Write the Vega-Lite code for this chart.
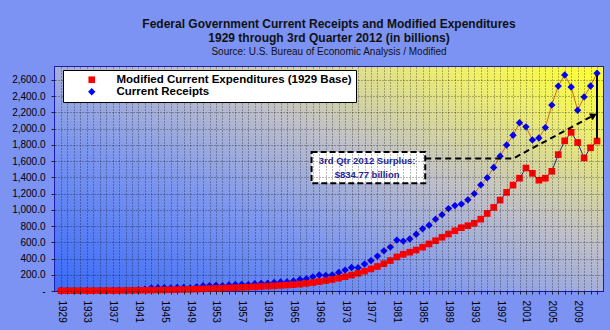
{
  "$schema": "https://vega.github.io/schema/vega-lite/v6.json",
  "width": 548,
  "height": 224,
  "autosize": {"type": "none"},
  "padding": {"left": 55, "top": 67, "right": 7, "bottom": 39},
  "background": "#7C93F3",
  "title": {
    "text": ["Federal Government Current Receipts and Modified Expenditures", "1929 through 3rd Quarter 2012 (in billions)"],
    "subtitle": "Source: U.S. Bureau of Economic Analysis / Modified",
    "anchor": "middle",
    "frame": "group",
    "font": "Liberation Sans",
    "fontSize": 12,
    "fontWeight": "bold",
    "color": "#111111",
    "lineHeight": 14,
    "subtitleFont": "Liberation Sans",
    "subtitleFontSize": 10,
    "subtitleColor": "#111111",
    "subtitlePadding": 2,
    "offset": 9
  },
  "config": {
    "view": {"stroke": "#1B1BB5", "strokeWidth": 2},
    "axis": {
      "labelFont": "Liberation Sans",
      "labelFontSize": 10,
      "labelColor": "#000000",
      "tickColor": "#222222",
      "domain": false,
      "grid": true,
      "gridColor": "#000000",
      "gridDash": [1, 2],
      "gridOpacity": 0.55,
      "zindex": 1,
      "title": null
    }
  },
  "datasets": {
    "series": [
      {"year": 1929, "series": "Current Receipts", "value": 3.8},
      {"year": 1930, "series": "Current Receipts", "value": 3.1},
      {"year": 1931, "series": "Current Receipts", "value": 2.0},
      {"year": 1932, "series": "Current Receipts", "value": 1.7},
      {"year": 1933, "series": "Current Receipts", "value": 2.7},
      {"year": 1934, "series": "Current Receipts", "value": 3.5},
      {"year": 1935, "series": "Current Receipts", "value": 4.0},
      {"year": 1936, "series": "Current Receipts", "value": 5.0},
      {"year": 1937, "series": "Current Receipts", "value": 7.0},
      {"year": 1938, "series": "Current Receipts", "value": 6.6},
      {"year": 1939, "series": "Current Receipts", "value": 6.7},
      {"year": 1940, "series": "Current Receipts", "value": 8.6},
      {"year": 1941, "series": "Current Receipts", "value": 15.4},
      {"year": 1942, "series": "Current Receipts", "value": 22.9},
      {"year": 1943, "series": "Current Receipts", "value": 39.3},
      {"year": 1944, "series": "Current Receipts", "value": 41.0},
      {"year": 1945, "series": "Current Receipts", "value": 42.5},
      {"year": 1946, "series": "Current Receipts", "value": 39.2},
      {"year": 1947, "series": "Current Receipts", "value": 43.0},
      {"year": 1948, "series": "Current Receipts", "value": 43.1},
      {"year": 1949, "series": "Current Receipts", "value": 38.8},
      {"year": 1950, "series": "Current Receipts", "value": 50.0},
      {"year": 1951, "series": "Current Receipts", "value": 64.3},
      {"year": 1952, "series": "Current Receipts", "value": 66.9},
      {"year": 1953, "series": "Current Receipts", "value": 70.2},
      {"year": 1954, "series": "Current Receipts", "value": 64.7},
      {"year": 1955, "series": "Current Receipts", "value": 73.5},
      {"year": 1956, "series": "Current Receipts", "value": 78.7},
      {"year": 1957, "series": "Current Receipts", "value": 82.4},
      {"year": 1958, "series": "Current Receipts", "value": 79.3},
      {"year": 1959, "series": "Current Receipts", "value": 89.7},
      {"year": 1960, "series": "Current Receipts", "value": 94.5},
      {"year": 1961, "series": "Current Receipts", "value": 96.0},
      {"year": 1962, "series": "Current Receipts", "value": 104.2},
      {"year": 1963, "series": "Current Receipts", "value": 112.1},
      {"year": 1964, "series": "Current Receipts", "value": 113.2},
      {"year": 1965, "series": "Current Receipts", "value": 124.0},
      {"year": 1966, "series": "Current Receipts", "value": 141.4},
      {"year": 1967, "series": "Current Receipts", "value": 150.2},
      {"year": 1968, "series": "Current Receipts", "value": 174.8},
      {"year": 1969, "series": "Current Receipts", "value": 196.8},
      {"year": 1970, "series": "Current Receipts", "value": 192.1},
      {"year": 1971, "series": "Current Receipts", "value": 199.2},
      {"year": 1972, "series": "Current Receipts", "value": 228.4},
      {"year": 1973, "series": "Current Receipts", "value": 257.8},
      {"year": 1974, "series": "Current Receipts", "value": 289.3},
      {"year": 1975, "series": "Current Receipts", "value": 287.3},
      {"year": 1976, "series": "Current Receipts", "value": 331.9},
      {"year": 1977, "series": "Current Receipts", "value": 375.1},
      {"year": 1978, "series": "Current Receipts", "value": 430.2},
      {"year": 1979, "series": "Current Receipts", "value": 495.2},
      {"year": 1980, "series": "Current Receipts", "value": 540.9},
      {"year": 1981, "series": "Current Receipts", "value": 627.7},
      {"year": 1982, "series": "Current Receipts", "value": 615.2},
      {"year": 1983, "series": "Current Receipts", "value": 641.1},
      {"year": 1984, "series": "Current Receipts", "value": 699.3},
      {"year": 1985, "series": "Current Receipts", "value": 767.6},
      {"year": 1986, "series": "Current Receipts", "value": 810.1},
      {"year": 1987, "series": "Current Receipts", "value": 885.1},
      {"year": 1988, "series": "Current Receipts", "value": 940.8},
      {"year": 1989, "series": "Current Receipts", "value": 1015.9},
      {"year": 1990, "series": "Current Receipts", "value": 1052.1},
      {"year": 1991, "series": "Current Receipts", "value": 1070.8},
      {"year": 1992, "series": "Current Receipts", "value": 1123.3},
      {"year": 1993, "series": "Current Receipts", "value": 1199.3},
      {"year": 1994, "series": "Current Receipts", "value": 1307.0},
      {"year": 1995, "series": "Current Receipts", "value": 1395.4},
      {"year": 1996, "series": "Current Receipts", "value": 1521.5},
      {"year": 1997, "series": "Current Receipts", "value": 1661.8},
      {"year": 1998, "series": "Current Receipts", "value": 1799.0},
      {"year": 1999, "series": "Current Receipts", "value": 1919.3},
      {"year": 2000, "series": "Current Receipts", "value": 2073.6},
      {"year": 2001, "series": "Current Receipts", "value": 2023.0},
      {"year": 2002, "series": "Current Receipts", "value": 1861.4},
      {"year": 2003, "series": "Current Receipts", "value": 1885.2},
      {"year": 2004, "series": "Current Receipts", "value": 2013.8},
      {"year": 2005, "series": "Current Receipts", "value": 2290.3},
      {"year": 2006, "series": "Current Receipts", "value": 2524.9},
      {"year": 2007, "series": "Current Receipts", "value": 2662.0},
      {"year": 2008, "series": "Current Receipts", "value": 2514.0},
      {"year": 2009, "series": "Current Receipts", "value": 2227.0},
      {"year": 2010, "series": "Current Receipts", "value": 2391.0},
      {"year": 2011, "series": "Current Receipts", "value": 2526.0},
      {"year": 2012, "series": "Current Receipts", "value": 2682.4},
      {"year": 1929, "series": "Modified Current Expenditures (1929 Base)", "value": 3.1},
      {"year": 1930, "series": "Modified Current Expenditures (1929 Base)", "value": 3.3},
      {"year": 1931, "series": "Modified Current Expenditures (1929 Base)", "value": 3.4},
      {"year": 1932, "series": "Modified Current Expenditures (1929 Base)", "value": 3.5},
      {"year": 1933, "series": "Modified Current Expenditures (1929 Base)", "value": 3.8},
      {"year": 1934, "series": "Modified Current Expenditures (1929 Base)", "value": 4.2},
      {"year": 1935, "series": "Modified Current Expenditures (1929 Base)", "value": 4.6},
      {"year": 1936, "series": "Modified Current Expenditures (1929 Base)", "value": 5.0},
      {"year": 1937, "series": "Modified Current Expenditures (1929 Base)", "value": 5.5},
      {"year": 1938, "series": "Modified Current Expenditures (1929 Base)", "value": 6.0},
      {"year": 1939, "series": "Modified Current Expenditures (1929 Base)", "value": 6.6},
      {"year": 1940, "series": "Modified Current Expenditures (1929 Base)", "value": 7.2},
      {"year": 1941, "series": "Modified Current Expenditures (1929 Base)", "value": 8.0},
      {"year": 1942, "series": "Modified Current Expenditures (1929 Base)", "value": 9.0},
      {"year": 1943, "series": "Modified Current Expenditures (1929 Base)", "value": 10.5},
      {"year": 1944, "series": "Modified Current Expenditures (1929 Base)", "value": 12.0},
      {"year": 1945, "series": "Modified Current Expenditures (1929 Base)", "value": 13.5},
      {"year": 1946, "series": "Modified Current Expenditures (1929 Base)", "value": 15.0},
      {"year": 1947, "series": "Modified Current Expenditures (1929 Base)", "value": 17.0},
      {"year": 1948, "series": "Modified Current Expenditures (1929 Base)", "value": 19.0},
      {"year": 1949, "series": "Modified Current Expenditures (1929 Base)", "value": 21.0},
      {"year": 1950, "series": "Modified Current Expenditures (1929 Base)", "value": 23.0},
      {"year": 1951, "series": "Modified Current Expenditures (1929 Base)", "value": 26.0},
      {"year": 1952, "series": "Modified Current Expenditures (1929 Base)", "value": 29.0},
      {"year": 1953, "series": "Modified Current Expenditures (1929 Base)", "value": 32.0},
      {"year": 1954, "series": "Modified Current Expenditures (1929 Base)", "value": 35.0},
      {"year": 1955, "series": "Modified Current Expenditures (1929 Base)", "value": 38.0},
      {"year": 1956, "series": "Modified Current Expenditures (1929 Base)", "value": 41.0},
      {"year": 1957, "series": "Modified Current Expenditures (1929 Base)", "value": 44.0},
      {"year": 1958, "series": "Modified Current Expenditures (1929 Base)", "value": 48.0},
      {"year": 1959, "series": "Modified Current Expenditures (1929 Base)", "value": 52.0},
      {"year": 1960, "series": "Modified Current Expenditures (1929 Base)", "value": 56.0},
      {"year": 1961, "series": "Modified Current Expenditures (1929 Base)", "value": 60.0},
      {"year": 1962, "series": "Modified Current Expenditures (1929 Base)", "value": 64.0},
      {"year": 1963, "series": "Modified Current Expenditures (1929 Base)", "value": 68.0},
      {"year": 1964, "series": "Modified Current Expenditures (1929 Base)", "value": 73.0},
      {"year": 1965, "series": "Modified Current Expenditures (1929 Base)", "value": 78.0},
      {"year": 1966, "series": "Modified Current Expenditures (1929 Base)", "value": 85.0},
      {"year": 1967, "series": "Modified Current Expenditures (1929 Base)", "value": 94.0},
      {"year": 1968, "series": "Modified Current Expenditures (1929 Base)", "value": 104.0},
      {"year": 1969, "series": "Modified Current Expenditures (1929 Base)", "value": 116.0},
      {"year": 1970, "series": "Modified Current Expenditures (1929 Base)", "value": 128.0},
      {"year": 1971, "series": "Modified Current Expenditures (1929 Base)", "value": 142.0},
      {"year": 1972, "series": "Modified Current Expenditures (1929 Base)", "value": 158.0},
      {"year": 1973, "series": "Modified Current Expenditures (1929 Base)", "value": 176.0},
      {"year": 1974, "series": "Modified Current Expenditures (1929 Base)", "value": 196.0},
      {"year": 1975, "series": "Modified Current Expenditures (1929 Base)", "value": 218.0},
      {"year": 1976, "series": "Modified Current Expenditures (1929 Base)", "value": 244.0},
      {"year": 1977, "series": "Modified Current Expenditures (1929 Base)", "value": 272.0},
      {"year": 1978, "series": "Modified Current Expenditures (1929 Base)", "value": 302.0},
      {"year": 1979, "series": "Modified Current Expenditures (1929 Base)", "value": 336.0},
      {"year": 1980, "series": "Modified Current Expenditures (1929 Base)", "value": 375.0},
      {"year": 1981, "series": "Modified Current Expenditures (1929 Base)", "value": 420.0},
      {"year": 1982, "series": "Modified Current Expenditures (1929 Base)", "value": 452.0},
      {"year": 1983, "series": "Modified Current Expenditures (1929 Base)", "value": 478.0},
      {"year": 1984, "series": "Modified Current Expenditures (1929 Base)", "value": 505.0},
      {"year": 1985, "series": "Modified Current Expenditures (1929 Base)", "value": 540.0},
      {"year": 1986, "series": "Modified Current Expenditures (1929 Base)", "value": 580.0},
      {"year": 1987, "series": "Modified Current Expenditures (1929 Base)", "value": 620.0},
      {"year": 1988, "series": "Modified Current Expenditures (1929 Base)", "value": 662.0},
      {"year": 1989, "series": "Modified Current Expenditures (1929 Base)", "value": 702.0},
      {"year": 1990, "series": "Modified Current Expenditures (1929 Base)", "value": 742.0},
      {"year": 1991, "series": "Modified Current Expenditures (1929 Base)", "value": 780.0},
      {"year": 1992, "series": "Modified Current Expenditures (1929 Base)", "value": 805.0},
      {"year": 1993, "series": "Modified Current Expenditures (1929 Base)", "value": 835.0},
      {"year": 1994, "series": "Modified Current Expenditures (1929 Base)", "value": 885.0},
      {"year": 1995, "series": "Modified Current Expenditures (1929 Base)", "value": 955.0},
      {"year": 1996, "series": "Modified Current Expenditures (1929 Base)", "value": 1030.0},
      {"year": 1997, "series": "Modified Current Expenditures (1929 Base)", "value": 1120.0},
      {"year": 1998, "series": "Modified Current Expenditures (1929 Base)", "value": 1215.0},
      {"year": 1999, "series": "Modified Current Expenditures (1929 Base)", "value": 1305.0},
      {"year": 2000, "series": "Modified Current Expenditures (1929 Base)", "value": 1390.0},
      {"year": 2001, "series": "Modified Current Expenditures (1929 Base)", "value": 1515.0},
      {"year": 2002, "series": "Modified Current Expenditures (1929 Base)", "value": 1450.0},
      {"year": 2003, "series": "Modified Current Expenditures (1929 Base)", "value": 1365.0},
      {"year": 2004, "series": "Modified Current Expenditures (1929 Base)", "value": 1390.0},
      {"year": 2005, "series": "Modified Current Expenditures (1929 Base)", "value": 1475.0},
      {"year": 2006, "series": "Modified Current Expenditures (1929 Base)", "value": 1680.0},
      {"year": 2007, "series": "Modified Current Expenditures (1929 Base)", "value": 1850.0},
      {"year": 2008, "series": "Modified Current Expenditures (1929 Base)", "value": 1955.0},
      {"year": 2009, "series": "Modified Current Expenditures (1929 Base)", "value": 1830.0},
      {"year": 2010, "series": "Modified Current Expenditures (1929 Base)", "value": 1640.0},
      {"year": 2011, "series": "Modified Current Expenditures (1929 Base)", "value": 1765.0},
      {"year": 2012, "series": "Modified Current Expenditures (1929 Base)", "value": 1847.6}
    ],
    "box": [{"year": 1967.8, "year2": 1985.4, "value": 1327, "value2": 1714}],
    "note": [
      {"year": 1976.4, "value": 1602, "text": "3rd Qtr 2012 Surplus:"},
      {"year": 1976.4, "value": 1435, "text": "$834.77 billion"}
    ],
    "pointer": [
      {"year": 1985.4, "value": 1632},
      {"year": 1999.0, "value": 1632},
      {"year": 2011.5, "value": 2165}
    ],
    "pointerHead": [{"year": 2011.5, "value": 2165}],
    "surplus": [{"year": 2012, "value": 2660, "value2": 1875}]
  },
  "encoding": {
    "x": {
      "field": "year",
      "type": "quantitative",
      "scale": {"domain": [1928.07, 2012.93], "nice": false, "zero": false},
      "axis": {
        "values": [1929,1930,1931,1932,1933,1934,1935,1936,1937,1938,1939,1940,1941,1942,1943,1944,1945,1946,1947,1948,1949,1950,1951,1952,1953,1954,1955,1956,1957,1958,1959,1960,1961,1962,1963,1964,1965,1966,1967,1968,1969,1970,1971,1972,1973,1974,1975,1976,1977,1978,1979,1980,1981,1982,1983,1984,1985,1986,1987,1988,1989,1990,1991,1992,1993,1994,1995,1996,1997,1998,1999,2000,2001,2002,2003,2004,2005,2006,2007,2008,2009,2010,2011,2012],
        "labelExpr": "(datum.value - 1929) % 4 === 0 ? format(datum.value, 'd') : ''",
        "labelAngle": 90,
        "labelAlign": "left",
        "labelBaseline": "middle",
        "labelPadding": 6,
        "labelOverlap": false,
        "tickSize": 3,
        "grid": true,
        "zindex": 1
      }
    },
    "y": {
      "field": "value",
      "type": "quantitative",
      "scale": {"domain": [0, 2760], "nice": false},
      "axis": {
        "values": [0,200,400,600,800,1000,1200,1400,1600,1800,2000,2200,2400,2600],
        "labelExpr": "datum.value === 0 ? '-' : format(datum.value, ',.1f')",
        "tickSize": 4,
        "labelPadding": 6,
        "grid": true,
        "zindex": 1
      }
    }
  },
  "layer": [
    {
      "data": {"values": [{"year": 1928.07, "year2": 2012.93, "value": 0, "value2": 2760}]},
      "mark": {
        "type": "rect",
        "color": {
          "gradient": "linear",
          "x1": 0, "y1": 1, "x2": 1, "y2": 0,
          "stops": [
            {"offset": 0, "color": "#3A6AF8"},
            {"offset": 0.35, "color": "#7E97EE"},
            {"offset": 0.6, "color": "#C0C0C8"},
            {"offset": 0.85, "color": "#EEEE70"},
            {"offset": 1, "color": "#FFFF30"}
          ]
        }
      },
      "encoding": {
        "x2": {"field": "year2"},
        "y2": {"field": "value2"}
      }
    },
    {
      "data": {"name": "series"},
      "transform": [{"filter": "datum.series === 'Modified Current Expenditures (1929 Base)'"}],
      "mark": {"type": "line", "color": "#23239A", "strokeWidth": 1}
    },
    {
      "data": {"name": "series"},
      "transform": [{"filter": "datum.series === 'Current Receipts'"}],
      "mark": {"type": "line", "color": "#D06A1E", "strokeWidth": 1}
    },
    {
      "data": {"name": "series"},
      "mark": {"type": "point", "filled": true, "opacity": 1},
      "encoding": {
        "color": {
          "field": "series",
          "type": "nominal",
          "scale": {"domain": ["Modified Current Expenditures (1929 Base)", "Current Receipts"], "range": ["#FF0000", "#0000FF"]},
          "legend": {
            "title": null,
            "orient": "none",
            "legendX": 8,
            "legendY": 3,
            "zindex": 2,
            "direction": "vertical",
            "fillColor": "#FFFFFF",
            "strokeColor": "#000000",
            "padding": 4,
            "symbolSize": 121,
            "symbolOffset": 19,
            "labelOffset": 19,
            "rowPadding": -4,
            "labelFont": "Liberation Sans",
            "labelFontSize": 11.5,
            "labelFontWeight": "bold",
            "labelColor": "#000000",
            "labelLimit": 400,
            "encode": {
              "symbols": {
                "shape": {
                  "condition": {"test": "datum.value === 'Current Receipts'", "value": "M-1.8,0L1.8,0M0,-0.7L0.7,0L0,0.7L-0.7,0Z"},
                  "value": "M-1.8,0L1.8,0M-0.55,-0.55L0.55,-0.55L0.55,0.55L-0.55,0.55Z"
                },
                "stroke": {
                  "condition": {"test": "datum.value === 'Current Receipts'", "value": "#CC2020"},
                  "value": "#2020CC"
                },
                "strokeWidth": {"value": 1}
              }
            }
          }
        },
        "shape": {
          "field": "series",
          "type": "nominal",
          "scale": {"domain": ["Modified Current Expenditures (1929 Base)", "Current Receipts"], "range": ["square", "diamond"]},
          "legend": null
        },
        "size": {
          "field": "series",
          "type": "nominal",
          "scale": {"domain": ["Modified Current Expenditures (1929 Base)", "Current Receipts"], "range": [44, 54]},
          "legend": null
        }
      }
    },
    {
      "data": {"name": "box"},
      "mark": {"type": "rect", "fill": "#FFFFFF", "stroke": "#000000", "strokeWidth": 2, "strokeDash": [6, 3]},
      "encoding": {
        "x2": {"field": "year2"},
        "y2": {"field": "value2"}
      }
    },
    {
      "data": {"name": "note"},
      "mark": {"type": "text", "font": "Liberation Sans", "fontSize": 9.5, "fontWeight": "bold", "color": "#1E2A9C", "align": "center", "baseline": "middle"},
      "encoding": {"text": {"field": "text"}}
    },
    {
      "data": {"name": "pointer"},
      "mark": {"type": "line", "color": "#000000", "strokeWidth": 2, "strokeDash": [6, 4]}
    },
    {
      "data": {"name": "pointerHead"},
      "mark": {"type": "point", "shape": "triangle-right", "filled": true, "color": "#000000", "size": 60, "angle": 332, "opacity": 1}
    },
    {
      "data": {"name": "surplus"},
      "mark": {"type": "rule", "color": "#000000", "strokeWidth": 2},
      "encoding": {"y2": {"field": "value2"}}
    }
  ]
}
